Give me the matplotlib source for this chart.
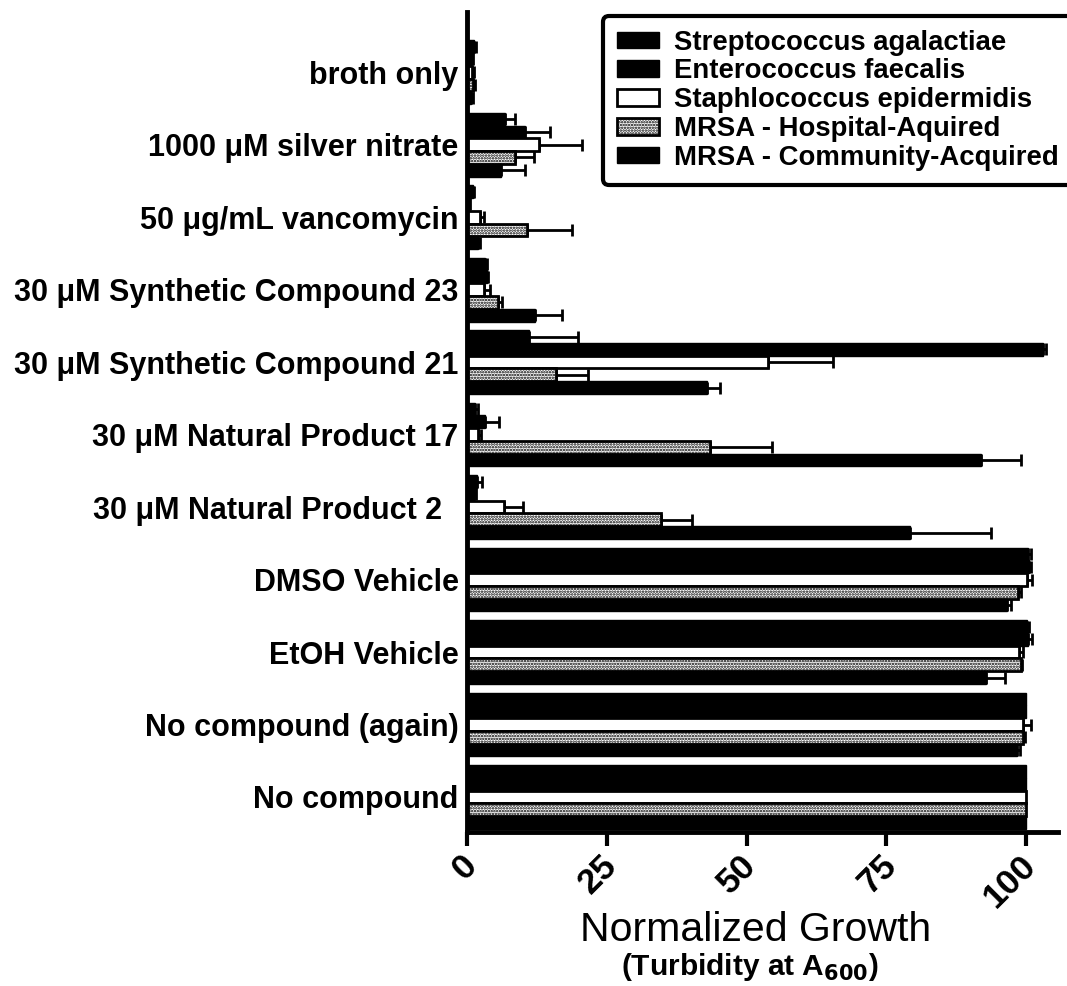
import matplotlib
matplotlib.use('Agg')
import matplotlib.pyplot as plt
import matplotlib.transforms as mtransforms
import numpy as np

plt.rcParams['font.family'] = ['Liberation Sans', 'DejaVu Sans']
plt.rcParams['hatch.linewidth'] = 1.2

categories = ["broth only", "1000 \u03bcM silver nitrate", "50 \u03bcg/mL vancomycin",
              "30 \u03bcM Synthetic Compound 23", "30 \u03bcM Synthetic Compound 21",
              "30 \u03bcM Natural Product 17", "30 \u03bcM Natural Product 2  ",
              "DMSO Vehicle", "EtOH Vehicle", "No compound (again)", "No compound"]

series_names = ["Streptococcus agalactiae", "Enterococcus faecalis",
                "Staphlococcus epidermidis", "MRSA - Hospital-Aquired",
                "MRSA - Community-Acquired"]

strep = [1.2, 6.8, 1.0, 3.3, 11.0, 1.4, 1.8, 100.3, 100.2, 100.0, 100.0]
strep_err = [0.4, 1.7, 0.3, 0.3, 8.8, 0.6, 0.8, 0.6, 0.3, 0.0, 0.0]

entero = [0.8, 10.4, 0.3, 3.5, 103.0, 3.2, 1.3, 100.5, 100.4, 100.0, 100.0]
entero_err = [0.3, 4.4, 0.2, 0.3, 0.5, 2.6, 0.3, 0.4, 0.6, 0.0, 0.0]

staph = [0.9, 12.8, 2.3, 3.1, 53.8, 2.0, 6.7, 100.2, 98.8, 99.4, 100.0]
staph_err = [0.3, 7.7, 0.8, 1.0, 11.6, 0.5, 3.3, 0.8, 0.7, 1.4, 0.0]

mrsa_ha = [1.0, 8.5, 10.7, 5.6, 16.0, 43.5, 34.7, 98.5, 99.0, 99.4, 100.0]
mrsa_ha_err = [0.5, 3.5, 8.0, 0.6, 5.7, 11.0, 5.5, 0.6, 0.3, 0.4, 0.0]

mrsa_ca = [0.8, 6.0, 2.0, 12.2, 42.9, 92.0, 79.3, 96.5, 92.8, 98.3, 100.0]
mrsa_ca_err = [0.2, 4.3, 0.3, 4.8, 2.4, 7.0, 14.4, 0.8, 3.5, 0.6, 0.0]

x_ticks = [0, 25, 50, 75, 100]

W, H = 1067, 986
fig = plt.figure(figsize=(W / 100, H / 100), dpi=100)
ax = fig.add_axes([467 / W, 1 - 832 / H, (1058 - 467) / W, (832 - 12) / H])

n = len(categories)
ypos = np.arange(n)[::-1].astype(float)
h = 0.176
offsets = [2, 1, 0, -1, -2]
styles = [
    dict(color='black', edgecolor='black', linewidth=1),
    dict(color='black', edgecolor='black', linewidth=1),
    dict(facecolor='white', edgecolor='black', linewidth=2),
    dict(facecolor='white', edgecolor='black', linewidth=2, hatch='......'),
    dict(color='black', edgecolor='black', linewidth=1),
]
data = [(strep, strep_err), (entero, entero_err), (staph, staph_err),
        (mrsa_ha, mrsa_ha_err), (mrsa_ca, mrsa_ca_err)]

handles = []
for (vals, errs), off, st, name in zip(data, offsets, styles, series_names):
    vals = np.array(vals)
    errs = np.array(errs)
    y = ypos + off * h
    b = ax.barh(y, vals, height=h, label=name, zorder=2, **st)
    handles.append(b)
    m = errs > 0
    ax.errorbar(vals[m], y[m], xerr=[np.zeros(m.sum()), errs[m]], fmt='none',
                ecolor='black', elinewidth=2, capsize=4, capthick=2, zorder=1)

ax.set_xlim(0, 105.7)
ax.set_ylim(-0.483, 10.83)
ax.set_yticks(ypos)
ax.set_yticklabels(categories, fontsize=22, fontweight='bold')
ax.tick_params(axis='y', length=0, pad=6)
ax.set_xticks(x_ticks)
ax.set_xticklabels([str(t) for t in x_ticks], fontsize=25.5, fontweight='bold')
ax.tick_params(axis='x', length=10, width=3, direction='out', pad=10.5)
offset = mtransforms.ScaledTranslation(5 / 100, 0, fig.dpi_scale_trans)
for lbl in ax.get_xticklabels():
    lbl.set_rotation(45)
    lbl.set_ha('right')
    lbl.set_va('center')
    lbl.set_rotation_mode('anchor')
    lbl.set_transform(lbl.get_transform() + offset)

for s in ['top', 'right']:
    ax.spines[s].set_visible(False)
ax.spines['left'].set_linewidth(3.5)
ax.spines['bottom'].set_linewidth(3.5)

fig.text(756 / W, 1 - 930 / H, "Normalized Growth", fontsize=29.5, ha='center', va='center')
fig.text(750 / W, 1 - 967 / H, r"(Turbidity at A$_{\mathbf{600}}$)", fontsize=21.5,
         fontweight='bold', ha='center', va='center')

leg = fig.legend(handles, series_names, loc='upper left',
                 bbox_to_anchor=(603 / W, 1 - 16 / H),
                 prop={'size': 19.8, 'weight': 'bold'}, frameon=True, fancybox=True,
                 handlelength=1.55, handleheight=0.55, handletextpad=0.55,
                 labelspacing=0.1, borderpad=0.5, borderaxespad=0)
fr = leg.get_frame()
fr.set_edgecolor('black')
fr.set_linewidth(3)
fr.set_alpha(1)

fig.savefig('out.png', dpi=100)
